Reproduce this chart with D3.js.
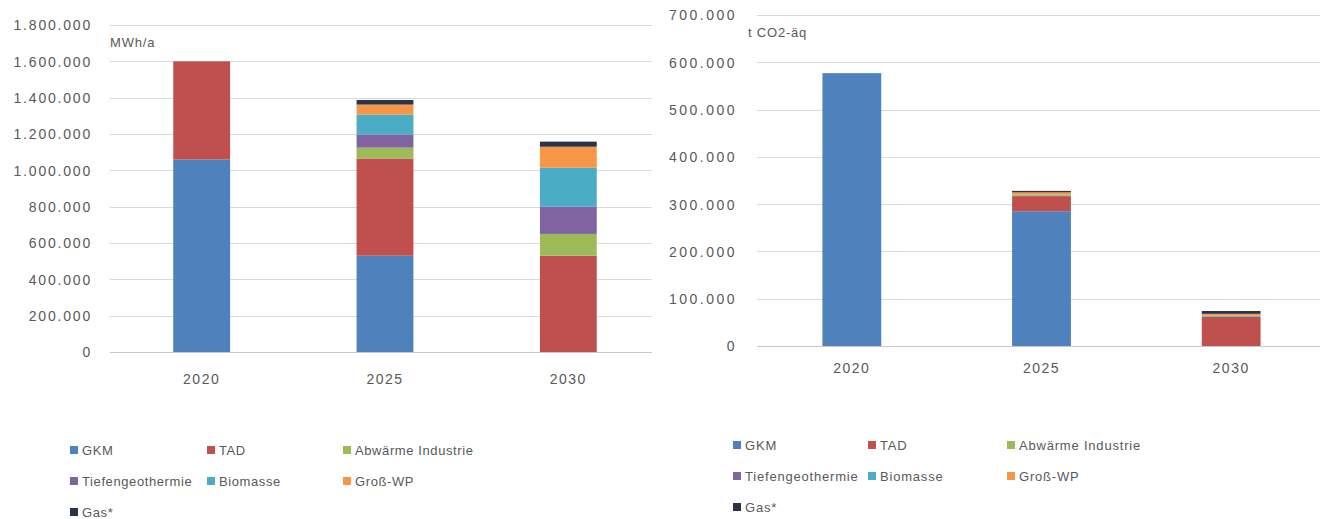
<!DOCTYPE html>
<html>
<head>
<meta charset="utf-8">
<script src="https://cdn.jsdelivr.net/npm/d3@7/dist/d3.min.js"></script>
<style>
  html, body { margin: 0; padding: 0; background: #fff; }
  svg { display: block; }
  text { font-family: "Liberation Sans", Arial, sans-serif; fill: #595959; }
</style>
</head>
<body>
<svg id="chart" width="1320" height="519"></svg>
<script>
// Years shown on both charts
const years = ["2020", "2025", "2030"];

// Heat sources (stack order bottom to top)
const seriesNames = ["GKM", "TAD", "Abwärme Industrie", "Tiefengeothermie", "Biomasse", "Groß-WP", "Gas*"];
const seriesColors = ["#4F81BD", "#C0504D", "#9BBB59", "#8064A2", "#4BACC6", "#F79646", "#2B3447"];

// Heat generation, MWh/a
const heatGKM        = [1060000, 530000, 0];
const heatTAD        = [540000, 535000, 530000];
const heatAbwaerme   = [0, 60000, 120000];
const heatTiefengeo  = [0, 72000, 150000];
const heatBiomasse   = [0, 110000, 215000];
const heatGrossWP    = [0, 55000, 115000];
const heatGas        = [0, 25000, 28000];

// Emissions, t CO2-äq
const co2GKM         = [577000, 285000, 0];
const co2TAD         = [0, 32000, 62000];
const co2Abwaerme    = [0, 2000, 0];
const co2Tiefengeo   = [0, 0, 0];
const co2Biomasse    = [0, 1000, 2000];
const co2GrossWP     = [0, 5000, 4000];
const co2Gas         = [0, 3000, 6000];

// Axis ticks
const heatTicks = [0, 200000, 400000, 600000, 800000, 1000000, 1200000, 1400000, 1600000, 1800000];
const co2Ticks  = [0, 100000, 200000, 300000, 400000, 500000, 600000, 700000];

const heatSeries = [heatGKM, heatTAD, heatAbwaerme, heatTiefengeo, heatBiomasse, heatGrossWP, heatGas];
const co2Series  = [co2GKM, co2TAD, co2Abwaerme, co2Tiefengeo, co2Biomasse, co2GrossWP, co2Gas];

const de = d3.formatLocale({ decimal: ",", thousands: ".", grouping: [3], currency: ["", " €"] });
const fmt = de.format(",d");

const svg = d3.select("#chart");

function buildRows(series) {
  return years.map((y, i) => {
    const row = { year: y };
    seriesNames.forEach((n, k) => { row[n] = series[k][i]; });
    return row;
  });
}

function drawChart(opt) {
  const g = svg.append("g");
  const x = d3.scaleBand().domain(years).range([opt.x0, opt.x1])
    .paddingInner(0.69).paddingOuter(0.345);
  const y = d3.scaleLinear().domain([0, opt.max]).range([opt.yBottom, opt.yTop]);

  // gridlines
  g.append("g").selectAll("line").data(opt.ticks).join("line")
    .attr("x1", opt.x0).attr("x2", opt.gridEnd)
    .attr("y1", d => Math.round(y(d)) + 0.5).attr("y2", d => Math.round(y(d)) + 0.5)
    .attr("stroke", d => d === 0 ? "#c8c8c8" : "#d9d9d9").attr("stroke-width", 1.2);

  // y axis labels
  const yAxis = d3.axisLeft(y).tickValues(opt.ticks).tickFormat(fmt).tickSize(0).tickPadding(0);
  const ya = g.append("g").attr("transform", `translate(${opt.labelX},0)`).call(yAxis);
  ya.select(".domain").remove();
  ya.selectAll("text").style("font-size", "14px").style("letter-spacing", opt.ls)
    .attr("fill", "#595959").attr("dy", "0.35em");

  // stacked bars
  const stack = d3.stack().keys(seriesNames);
  const layers = stack(buildRows(opt.series));
  g.append("g").selectAll("g").data(layers).join("g")
    .attr("fill", (d, i) => seriesColors[i])
    .selectAll("rect").data(d => d).join("rect")
    .attr("x", d => x(d.data.year))
    .attr("width", x.bandwidth())
    .attr("y", d => y(d[1]))
    .attr("height", d => y(d[0]) - y(d[1]));

  // x axis labels
  const xAxis = d3.axisBottom(x).tickSize(0).tickPadding(0);
  const xa = g.append("g").attr("transform", `translate(0,${opt.xLabelY})`).call(xAxis);
  xa.select(".domain").remove();
  xa.selectAll("text").style("font-size", "14px").style("letter-spacing", "1.5px")
    .attr("fill", "#595959").attr("dy", "0.35em");

  // unit label
  g.append("text").attr("x", opt.unitX).attr("y", opt.unitY)
    .style("font-size", "13px").style("letter-spacing", "0.8px").text(opt.unit);

  // legend
  const lg = g.append("g");
  seriesNames.forEach((n, i) => {
    const col = i % 3, row = Math.floor(i / 3);
    const lx = opt.legendCols[col], ly = opt.legendRows[row];
    lg.append("rect").attr("x", lx).attr("y", ly - 4).attr("width", 8).attr("height", 8)
      .attr("fill", seriesColors[i]);
    lg.append("text").attr("x", lx + 12).attr("y", ly).attr("dy", "0.35em")
      .style("font-size", "13px").style("letter-spacing", opt.legendLs).text(n);
  });
}

drawChart({
  series: heatSeries, max: 1800000, ticks: heatTicks,
  x0: 110, x1: 660, gridEnd: 652, yBottom: 352, yTop: 25, labelX: 92, ls: "1.8px",
  xLabelY: 379, unit: "MWh/a", unitX: 110, unitY: 47,
  legendCols: [70, 207, 343], legendRows: [450, 481, 512], legendLs: "0.6px"
});

drawChart({
  series: co2Series, max: 700000, ticks: co2Ticks,
  x0: 757, x1: 1326, gridEnd: 1320, yBottom: 346, yTop: 15, labelX: 737, ls: "2.5px",
  xLabelY: 368, unit: "t CO2-äq", unitX: 748, unitY: 37,
  legendCols: [733, 868, 1007], legendRows: [445, 476, 507], legendLs: "0.8px"
});
</script>
</body>
</html>
